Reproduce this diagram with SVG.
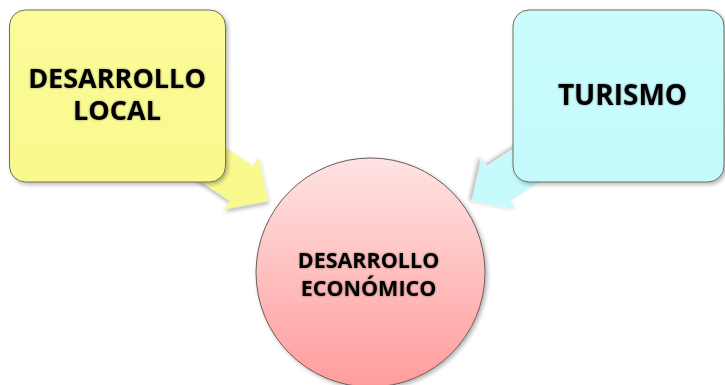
<svg xmlns="http://www.w3.org/2000/svg" width="725" height="385" viewBox="0 0 725 385">
  <defs>
    <linearGradient id="gPink" x1="0" y1="0" x2="0" y2="1">
      <stop offset="0" stop-color="#FFE3E3"/>
      <stop offset="1" stop-color="#FF9C9C"/>
    </linearGradient>
    <linearGradient id="gYellow" x1="0" y1="0" x2="0" y2="1">
      <stop offset="0" stop-color="#FBFB9A"/>
      <stop offset="1" stop-color="#F9F98E"/>
    </linearGradient>
    <linearGradient id="gBlue" x1="0" y1="0" x2="0" y2="1">
      <stop offset="0" stop-color="#CBFCFD"/>
      <stop offset="1" stop-color="#C4FAFC"/>
    </linearGradient>
    <filter id="shadow" x="-10%" y="-10%" width="125%" height="125%">
      <feGaussianBlur in="SourceAlpha" stdDeviation="2"/>
      <feOffset dx="1.5" dy="2" result="b"/>
      <feComponentTransfer><feFuncA type="linear" slope="0.3"/></feComponentTransfer>
      <feMerge><feMergeNode/><feMergeNode in="SourceGraphic"/></feMerge>
    </filter>
    <filter id="tglow" x="-10%" y="-30%" width="120%" height="160%">
      <feGaussianBlur in="SourceAlpha" stdDeviation="1.2"/>
      <feComponentTransfer><feFuncA type="linear" slope="0.45"/></feComponentTransfer>
      <feMerge><feMergeNode/><feMergeNode in="SourceGraphic"/></feMerge>
    </filter>
    <path id="arrowShape" d="M0,0 L-32,-31 L-32,-21 L-105,-21 L-105,21 L-32,21 L-32,31 Z"/>
  </defs>
  <style>
    .box { stroke: #6E6E5A; stroke-width: 1; filter: url(#shadow); }
    .lbl { font-family: "Open Sans", "Noto Sans", "DejaVu Sans", sans-serif; font-weight: bold; fill: #000; text-anchor: middle; filter: url(#tglow); }
    .arrow { filter: url(#shadow); }
  </style>

  <g id="connectors">
    <use href="#arrowShape" class="arrow" fill="#F9F98E" transform="translate(268,201) rotate(33.5)"/>
    <use href="#arrowShape" class="arrow" fill="#C6FAFC" transform="translate(472,201) rotate(146.5)"/>
  </g>

  <g id="node-desarrollo-local">
    <rect class="box" x="9.5" y="10" width="216" height="172" rx="16" fill="url(#gYellow)"/>
    <text class="lbl" x="117" y="88" font-size="27">DESARROLLO</text>
    <text class="lbl" x="117" y="120" font-size="27">LOCAL</text>
  </g>

  <g id="node-turismo">
    <rect class="box" x="513" y="10" width="211" height="172" rx="16" fill="url(#gBlue)"/>
    <text class="lbl" x="622.5" y="105" font-size="28">TURISMO</text>
  </g>

  <g id="node-desarrollo-economico">
    <circle cx="370.5" cy="272.5" r="114.5" fill="url(#gPink)" stroke="#6B5A5A" stroke-width="1" filter="url(#shadow)"/>
    <text class="lbl" x="368.5" y="268" font-size="21.5">DESARROLLO</text>
    <text class="lbl" x="368.5" y="296" font-size="21.5">ECONÓMICO</text>
  </g>
</svg>
